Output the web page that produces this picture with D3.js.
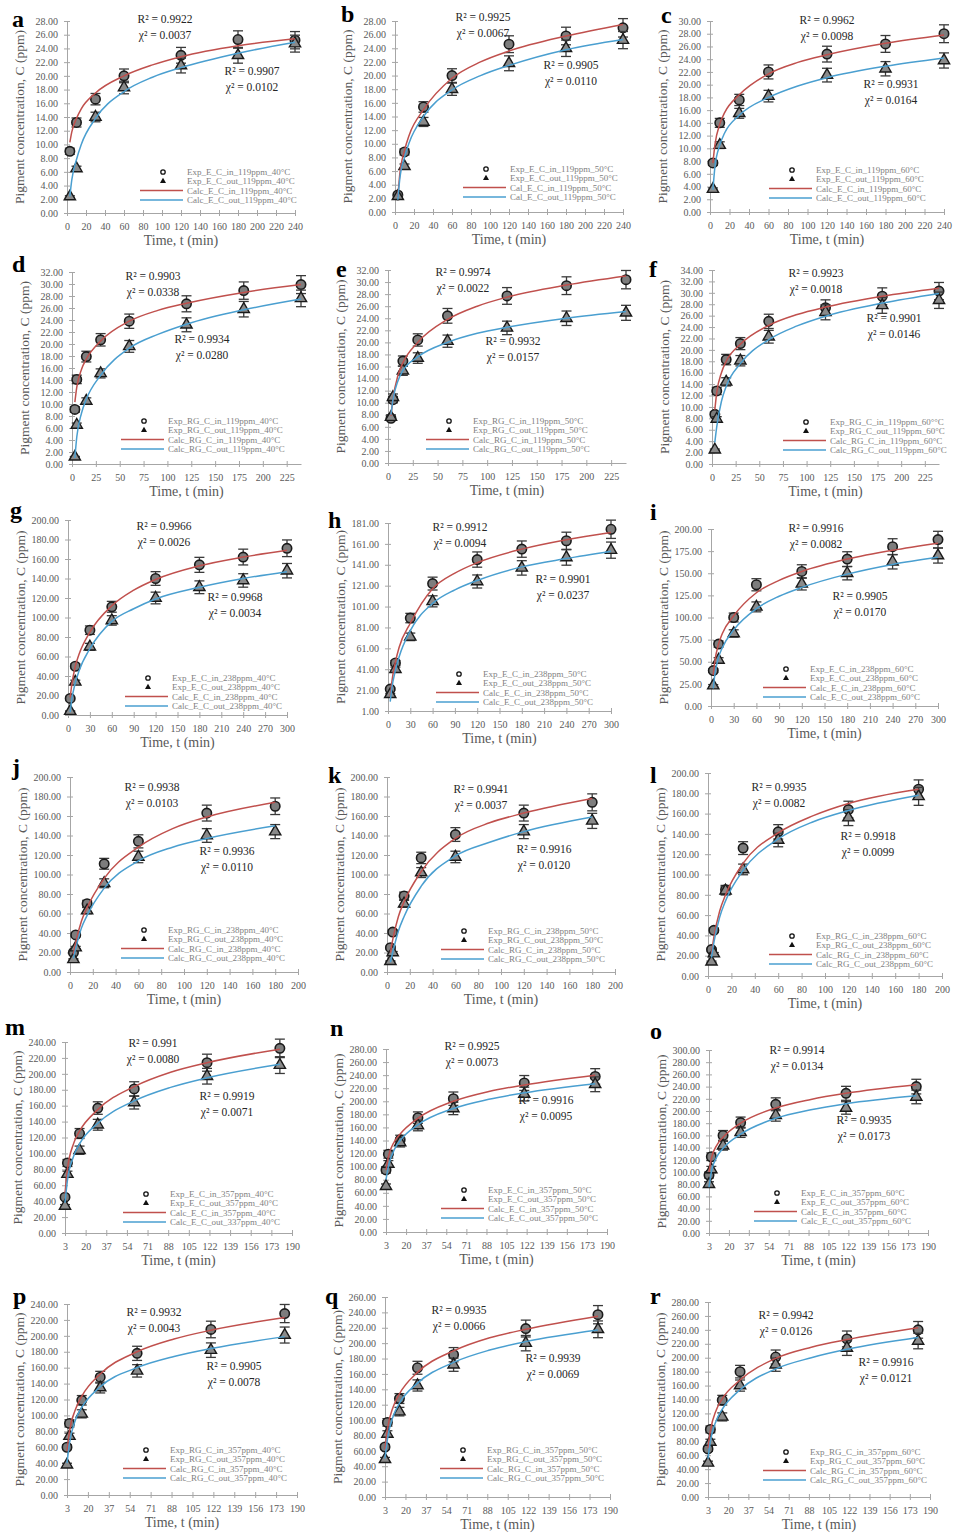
<!DOCTYPE html>
<html>
<head>
<meta charset="utf-8">
<script src="https://cdn.jsdelivr.net/npm/d3@7"></script>
<style>
  body { margin: 0; background: #fff; }
  svg text { font-family: "Liberation Serif", "Times New Roman", serif; }
</style>
</head>
<body>
<svg id="fig" width="953" height="1533"></svg>
<script>
// ---- sampling times (min) ----
const tExp240 = [3, 10, 30, 60, 120, 180, 240];          // a, b, c
const tExpRG240 = [3, 5, 15, 30, 60, 120, 180, 240];     // d, e, f
const tExp300 = [3, 10, 30, 60, 120, 180, 240, 300];     // g, h, i
const tExp180 = [3, 5, 15, 30, 60, 120, 180];            // j .. r
const tCalc240 = [3, 5, 10, 15, 30, 60, 90, 120, 180, 240];
const tCalc300 = [3, 5, 10, 15, 30, 60, 90, 120, 180, 240, 300];
const tCalc180 = [3, 5, 10, 15, 30, 60, 90, 120, 180];

// ---- tick labels ----
const xTicks240 = [0, 20, 40, 60, 80, 100, 120, 140, 160, 180, 200, 220, 240];
const xTicks225 = [0, 25, 50, 75, 100, 125, 150, 175, 200, 225];
const xTicks300 = [0, 30, 60, 90, 120, 150, 180, 210, 240, 270, 300];
const xTicks200 = [0, 20, 40, 60, 80, 100, 120, 140, 160, 180, 200];
const xTicks190 = [3, 20, 37, 54, 71, 88, 105, 122, 139, 156, 173, 190];

const y28 = [0, 2, 4, 6, 8, 10, 12, 14, 16, 18, 20, 22, 24, 26, 28];
const y30 = [0, 2, 4, 6, 8, 10, 12, 14, 16, 18, 20, 22, 24, 26, 28, 30];
const y32 = [0, 2, 4, 6, 8, 10, 12, 14, 16, 18, 20, 22, 24, 26, 28, 30, 32];
const y34 = [0, 2, 4, 6, 8, 10, 12, 14, 16, 18, 20, 22, 24, 26, 28, 30, 32, 34];
const y200 = [0, 20, 40, 60, 80, 100, 120, 140, 160, 180, 200];
const y181 = [1, 21, 41, 61, 81, 101, 121, 141, 161, 181];
const y200q = [0, 25, 50, 75, 100, 125, 150, 175, 200];
const y240 = [0, 20, 40, 60, 80, 100, 120, 140, 160, 180, 200, 220, 240];
const y260 = [0, 20, 40, 60, 80, 100, 120, 140, 160, 180, 200, 220, 240, 260];
const y280 = [0, 20, 40, 60, 80, 100, 120, 140, 160, 180, 200, 220, 240, 260, 280];
const y300 = [0, 20, 40, 60, 80, 100, 120, 140, 160, 180, 200, 220, 240, 260, 280, 300];

// ---- experimental C_in / C_out (ppm) and calculated curves ----
const inA = [9.0, 13.2, 16.6, 20.0, 23.0, 25.3, 25.2];
const outA = [2.4, 6.5, 14.0, 18.3, 21.5, 23.0, 24.7];
const calcInA = [10.3, 11.8, 13.8, 15.2, 17.5, 20.0, 21.6, 22.8, 24.4, 25.4];
const calcOutA = [2.4, 4.8, 7.8, 10.0, 13.8, 17.7, 19.8, 21.2, 23.3, 24.9];

const inB = [2.5, 8.8, 15.4, 20.0, 24.6, 25.8, 27.0];
const outB = [2.3, 6.7, 13.2, 18.0, 21.8, 24.0, 25.2];
const calcInB = [2.2, 5.5, 9.0, 11.3, 15.0, 19.6, 22.0, 23.6, 25.8, 27.5];
const calcOutB = [1.8, 4.8, 8.0, 10.2, 14.0, 17.9, 20.0, 21.5, 23.8, 25.3];

const inC = [7.7, 14.0, 17.6, 22.0, 24.8, 26.4, 28.0];
const outC = [3.6, 10.5, 15.5, 18.2, 21.5, 22.5, 23.8];
const calcInC = [7.7, 10.5, 13.8, 15.6, 18.4, 21.7, 23.5, 24.7, 26.5, 27.8];
const calcOutC = [3.5, 7.0, 10.5, 12.4, 15.2, 18.0, 19.8, 21.1, 22.9, 24.2];

const inD = [9.1, 14.1, 17.9, 20.7, 23.8, 26.7, 28.9, 29.9];
const outD = [1.2, 6.5, 10.5, 15.1, 19.6, 23.2, 25.8, 27.6];
const calcInD = [10.3, 12.8, 15.8, 17.5, 20.5, 23.8, 25.6, 26.8, 28.6, 29.9];
const calcOutD = [1.0, 4.5, 8.5, 10.8, 14.8, 19.3, 21.6, 23.3, 25.7, 27.5];

const inE = [7.4, 10.5, 16.9, 20.4, 24.4, 27.7, 29.4, 30.4];
const outE = [7.6, 10.9, 15.3, 17.4, 20.2, 22.4, 24.0, 24.9];
const calcInE = [7.8, 10.6, 14.5, 16.6, 20.0, 23.8, 26.0, 27.5, 29.5, 31.0];
const calcOutE = [8.0, 10.5, 13.6, 15.3, 17.6, 20.0, 21.5, 22.5, 24.0, 25.1];

const inF = [8.7, 12.8, 18.3, 21.1, 25.0, 27.4, 29.4, 30.3];
const outF = [2.5, 7.9, 14.4, 18.1, 22.3, 26.6, 27.8, 28.7];
const calcInF = [9.5, 12.5, 16.0, 18.0, 21.0, 24.3, 26.2, 27.5, 29.4, 30.8];
const calcOutF = [3.8, 6.5, 11.0, 13.6, 17.6, 21.8, 24.2, 25.9, 28.2, 29.9];

const inG = [17, 50, 87, 111, 140, 154, 162, 171];
const outG = [4, 34, 70, 97, 120, 131, 138, 148];
const calcInG = [18, 30, 50, 62, 85, 112, 128, 139, 153, 162, 169];
const calcOutG = [3, 15, 33, 45, 68, 96, 109, 119, 131, 140, 147];

const inH = [22, 47, 90, 123, 146, 156, 164, 175];
const outH = [17, 41, 72, 106, 125, 138, 148, 155];
const calcInH = [15, 28, 48, 62, 85, 118, 133, 143, 156, 165, 172];
const calcOutH = [10, 22, 40, 53, 78, 104, 117, 126, 139, 147, 154];

const inI = [40, 70, 100, 137, 152, 166, 180, 188];
const outI = [23, 52, 82, 112, 138, 150, 163, 170];
const calcInI = [35, 50, 70, 82, 102, 128, 142, 152, 166, 176, 184];
const calcOutI = [20, 35, 55, 66, 86, 110, 124, 134, 149, 160, 168];

const inJ = [20, 38, 70, 111, 134, 163, 170];
const outJ = [13, 25, 63, 91, 118, 140, 144];
const calcInJ = [18, 30, 52, 66, 96, 128, 147, 159, 174];
const calcOutJ = [14, 24, 45, 58, 86, 114, 128, 137, 150];

const inK = [25, 41, 78, 117, 141, 163, 174];
const outK = [11, 20, 70, 102, 118, 144, 155];
const calcInK = [20, 33, 57, 72, 103, 137, 153, 163, 178];
const calcOutK = [10, 20, 42, 57, 88, 119, 133, 144, 159];

const inL = [26, 45, 85, 126, 142, 164, 184];
const outL = [14, 22, 84, 105, 134, 156, 177];
const calcInL = [22, 38, 64, 80, 111, 141, 158, 170, 184];
const calcOutL = [18, 33, 58, 74, 104, 135, 152, 163, 178];

const inM = [45, 88, 125, 157, 181, 214, 232];
const outM = [34, 74, 104, 136, 164, 197, 211];
const calcInM = [50, 80, 112, 128, 155, 184, 202, 214, 231];
const calcOutM = [38, 66, 96, 112, 138, 166, 183, 195, 212];

const inN = [95, 119, 141, 175, 204, 228, 238];
const outN = [70, 104, 137, 163, 189, 211, 226];
const calcInN = [95, 115, 138, 150, 174, 200, 215, 225, 240];
const calcOutN = [80, 100, 126, 140, 164, 189, 203, 213, 227];

const inO = [95, 125, 160, 181, 211, 229, 240];
const outO = [80, 104, 143, 165, 193, 205, 223];
const calcInO = [100, 122, 145, 157, 180, 205, 219, 229, 243];
const calcOutO = [75, 100, 126, 139, 162, 188, 202, 212, 225];

const inP = [60, 90, 119, 148, 178, 208, 228];
const outP = [38, 74, 102, 135, 156, 182, 201];
const calcInP = [55, 80, 108, 124, 152, 180, 196, 207, 223];
const calcOutP = [40, 65, 95, 110, 136, 160, 174, 184, 199];

const inQ = [65, 97, 128, 168, 185, 219, 237];
const outQ = [49, 82, 111, 145, 172, 200, 218];
const calcInQ = [62, 88, 118, 134, 162, 190, 207, 218, 235];
const calcOutQ = [50, 75, 106, 122, 148, 175, 191, 202, 217];

const inR = [69, 97, 139, 180, 201, 227, 240];
const outR = [49, 79, 115, 160, 190, 214, 224];
const calcInR = [70, 95, 125, 141, 168, 199, 215, 226, 243];
const calcOutR = [55, 80, 110, 126, 154, 184, 200, 212, 229];

// ---- fit statistics: [R2 in, chi2 in, R2 out, chi2 out] ----
const statsA = ['0.9922', '0.0037', '0.9907', '0.0102'];
const statsB = ['0.9925', '0.0067', '0.9905', '0.0110'];
const statsC = ['0.9962', '0.0098', '0.9931', '0.0164'];
const statsD = ['0.9903', '0.0338', '0.9934', '0.0280'];
const statsE = ['0.9974', '0.0022', '0.9932', '0.0157'];
const statsF = ['0.9923', '0.0018', '0.9901', '0.0146'];
const statsG = ['0.9966', '0.0026', '0.9968', '0.0034'];
const statsH = ['0.9912', '0.0094', '0.9901', '0.0237'];
const statsI = ['0.9916', '0.0082', '0.9905', '0.0170'];
const statsJ = ['0.9938', '0.0103', '0.9936', '0.0110'];
const statsK = ['0.9941', '0.0037', '0.9916', '0.0120'];
const statsL = ['0.9935', '0.0082', '0.9918', '0.0099'];
const statsM = ['0.991', '0.0080', '0.9919', '0.0071'];
const statsN = ['0.9925', '0.0073', '0.9916', '0.0095'];
const statsO = ['0.9914', '0.0134', '0.9935', '0.0173'];
const statsP = ['0.9932', '0.0043', '0.9905', '0.0078'];
const statsQ = ['0.9935', '0.0066', '0.9939', '0.0069'];
const statsR = ['0.9942', '0.0126', '0.9916', '0.0121'];

// ---- legend naming ----
const methods = ['E', 'E', 'E', 'RG', 'RG', 'RG', 'E', 'E', 'E', 'RG', 'RG', 'RG', 'E', 'E', 'E', 'RG', 'RG', 'RG'];
const concs = [119, 119, 119, 119, 119, 119, 238, 238, 238, 238, 238, 238, 357, 357, 357, 357, 357, 357];
const temps = [40, 50, 60, 40, 50, 60, 40, 50, 60, 40, 50, 60, 40, 50, 60, 40, 50, 60];

const errPct = 0.05; // percentage error bars

// ---- layout (pixel positions, not data) ----
const boxes = { // [x at min, x at max, y at max, y at min]
  a: [67, 295, 21, 213], b: [395, 623, 21, 212], c: [710, 944, 21, 212],
  d: [72, 301, 272, 464], e: [388, 626, 270, 463], f: [712, 939, 270, 464],
  g: [68, 287, 520, 715], h: [388, 611, 523, 711], i: [711, 938, 529, 706],
  j: [70, 298, 777, 972], k: [387, 615, 777, 972], l: [708, 942, 773, 976],
  m: [65, 292, 1042, 1233], n: [386, 607, 1049, 1232], o: [709, 928, 1050, 1233],
  p: [67, 297, 1304, 1495], q: [385, 610, 1297, 1497], r: [708, 930, 1302, 1497]
};
const letterPos = {
  a: [12, 27], b: [341, 22], c: [661, 23], d: [12, 272], e: [336, 277], f: [649, 277],
  g: [10, 518], h: [328, 528], i: [650, 520], j: [12, 775], k: [328, 783], l: [650, 783],
  m: [5, 1035], n: [330, 1036], o: [650, 1039], p: [13, 1304], q: [325, 1304], r: [650, 1304]
};
const statPos = {
  a: [[165, 19], [252, 71]], b: [[483, 17], [571, 65]], c: [[827, 20], [891, 84]],
  d: [[153, 276], [202, 339]], e: [[463, 272], [513, 341]], f: [[816, 273], [894, 318]],
  g: [[164, 526], [235, 597]], h: [[460, 527], [563, 579]], i: [[816, 528], [860, 596]],
  j: [[152, 787], [227, 851]], k: [[481, 789], [544, 849]], l: [[779, 787], [868, 836]],
  m: [[153, 1043], [227, 1096]], n: [[472, 1046], [546, 1100]], o: [[797, 1050], [864, 1120]],
  p: [[154, 1312], [234, 1366]], q: [[459, 1310], [553, 1358]], r: [[786, 1315], [886, 1362]]
};
const legendPos = {
  a: [187, 172], b: [510, 169], c: [816, 170], d: [168, 421], e: [473, 421], f: [830, 422],
  g: [172, 678], h: [483, 674], i: [810, 669], j: [168, 930], k: [488, 931], l: [816, 936],
  m: [170, 1194], n: [488, 1190], o: [801, 1193], p: [170, 1450], q: [487, 1450], r: [810, 1452]
};

const RED = '#c0504d', BLUE = '#4a9fd0', GREY = '#595959', AXIS = '#a6a6a6';

// assemble panels
const panelDefs = [
  ['a', tExp240, tCalc240, inA, outA, calcInA, calcOutA, xTicks240, [0, 240], y28, statsA],
  ['b', tExp240, tCalc240, inB, outB, calcInB, calcOutB, xTicks240, [0, 240], y28, statsB],
  ['c', tExp240, tCalc240, inC, outC, calcInC, calcOutC, xTicks240, [0, 240], y30, statsC],
  ['d', tExpRG240, tCalc240, inD, outD, calcInD, calcOutD, xTicks225, [0, 240], y32, statsD],
  ['e', tExpRG240, tCalc240, inE, outE, calcInE, calcOutE, xTicks225, [0, 240], y32, statsE],
  ['f', tExpRG240, tCalc240, inF, outF, calcInF, calcOutF, xTicks225, [0, 240], y34, statsF],
  ['g', tExp300, tCalc300, inG, outG, calcInG, calcOutG, xTicks300, [0, 300], y200, statsG],
  ['h', tExp300, tCalc300, inH, outH, calcInH, calcOutH, xTicks300, [0, 300], y181, statsH],
  ['i', tExp300, tCalc300, inI, outI, calcInI, calcOutI, xTicks300, [0, 300], y200q, statsI],
  ['j', tExp180, tCalc180, inJ, outJ, calcInJ, calcOutJ, xTicks200, [0, 200], y200, statsJ],
  ['k', tExp180, tCalc180, inK, outK, calcInK, calcOutK, xTicks200, [0, 200], y200, statsK],
  ['l', tExp180, tCalc180, inL, outL, calcInL, calcOutL, xTicks200, [0, 200], y200, statsL],
  ['m', tExp180, tCalc180, inM, outM, calcInM, calcOutM, xTicks190, [3, 190], y240, statsM],
  ['n', tExp180, tCalc180, inN, outN, calcInN, calcOutN, xTicks190, [3, 190], y280, statsN],
  ['o', tExp180, tCalc180, inO, outO, calcInO, calcOutO, xTicks190, [3, 190], y300, statsO],
  ['p', tExp180, tCalc180, inP, outP, calcInP, calcOutP, xTicks190, [3, 190], y240, statsP],
  ['q', tExp180, tCalc180, inQ, outQ, calcInQ, calcOutQ, xTicks190, [3, 190], y260, statsQ],
  ['r', tExp180, tCalc180, inR, outR, calcInR, calcOutR, xTicks190, [3, 190], y280, statsR]
];

function legendLabels(idx) {
  const m = methods[idx], c = concs[idx], t = temps[idx];
  const calc = idx === 1 ? 'Cal' : 'Calc';
  const labels = [
    `Exp_${m}_C_in_${c}ppm_${t}°C`,
    `Exp_${m}_C_out_${c}ppm_${t}°C`,
    `${calc}_${m}_C_in_${c}ppm_${t}°C`,
    `${calc}_${m}_C_out_${c}ppm_${t}°C`
  ];
  if (idx === 5) labels[0] = `Exp_${m}_C_in_${c}ppm_${t}°°C`;  // as printed
  if (idx === 12) labels[3] = `Calc_${m}_C_out_337ppm_${t}°C`; // as printed
  return labels;
}

const svg = d3.select('#fig');
const tri = d3.symbol().type(d3.symbolTriangle);

panelDefs.forEach((def, idx) => {
  const [id, tExp, tCalc, cIn, cOut, calcIn, calcOut, xTicks, xDom, yTicks, stats] = def;
  const [x0, x1, yT, yB] = boxes[id];
  const x = d3.scaleLinear().domain(xDom).range([x0, x1]);
  const y = d3.scaleLinear().domain([yTicks[0], yTicks[yTicks.length - 1]]).range([yB, yT]);
  const g = svg.append('g').attr('class', 'panel-' + id);

  // axes
  const xa = g.append('g').attr('transform', `translate(0,${yB})`)
      .call(d3.axisBottom(x).tickValues(xTicks).tickSizeInner(3).tickSizeOuter(0).tickPadding(7).tickFormat(d3.format('d')));
  xa.selectAll('line').attr('y1', -3);
  const ya = g.append('g').attr('transform', `translate(${x0},0)`)
      .call(d3.axisLeft(y).tickValues(yTicks).tickSizeInner(3).tickSizeOuter(0).tickPadding(6).tickFormat(d3.format('.2f')));
  ya.selectAll('line').attr('x1', 3);
  [xa, ya].forEach(a => {
    a.select('.domain').attr('stroke', AXIS);
    a.selectAll('line').attr('stroke', AXIS);
    a.selectAll('text').attr('fill', GREY).style('font-size', '10px');
  });

  // axis titles
  g.append('text')
      .attr('transform', `translate(${x0 - 48},${(yT + yB) / 2}) rotate(-90)`)
      .attr('text-anchor', 'middle').attr('dy', '0.35em')
      .attr('fill', GREY).style('font-size', '13.5px')
      .text('Pigment concentration, C (ppm)');
  g.append('text')
      .attr('x', (x0 + x1) / 2).attr('y', yB + 32)
      .attr('text-anchor', 'middle')
      .attr('fill', GREY).style('font-size', '14px')
      .text('Time, t (min)');

  // experimental points with error bars
  const series = [
    { vals: cIn, shape: 'circle' },
    { vals: cOut, shape: 'triangle' }
  ];
  series.forEach(s => {
    const pts = tExp.map((t, i) => ({ t, v: s.vals[i] }));
    const eb = g.append('g').attr('stroke', '#3a3a3a').attr('stroke-width', 1.3);
    pts.forEach(d => {
      const lo = y(d.v * (1 - errPct)), hi = y(d.v * (1 + errPct)), cx = x(d.t);
      eb.append('line').attr('x1', cx).attr('x2', cx).attr('y1', lo).attr('y2', hi);
      eb.append('line').attr('x1', cx - 5).attr('x2', cx + 5).attr('y1', lo).attr('y2', lo);
      eb.append('line').attr('x1', cx - 5).attr('x2', cx + 5).attr('y1', hi).attr('y2', hi);
    });
    if (s.shape === 'circle') {
      g.append('g').selectAll('circle').data(pts).join('circle')
          .attr('cx', d => x(d.t)).attr('cy', d => y(d.v)).attr('r', 4.7)
          .attr('fill', '#7d7d7d').attr('stroke', '#1a1a1a').attr('stroke-width', 1.6);
    } else {
      g.append('g').selectAll('path').data(pts).join('path')
          .attr('d', tri.size(55))
          .attr('transform', d => `translate(${x(d.t)},${y(d.v)})`)
          .attr('fill', '#8a8a8a').attr('stroke', '#1a1a1a').attr('stroke-width', 1.4);
    }
  });

  // calculated curves (drawn above markers, as in the source)
  const line = d3.line().x(d => x(d.t)).y(d => y(d.v)).curve(d3.curveMonotoneX);
  [[calcIn, RED], [calcOut, BLUE]].forEach(([vals, col]) => {
    g.append('path')
        .datum(tCalc.map((t, i) => ({ t, v: vals[i] })))
        .attr('d', line).attr('fill', 'none')
        .attr('stroke', col).attr('stroke-width', 1.5);
  });

  // fit statistics
  const sp = statPos[id];
  [[sp[0], stats[0], stats[1]], [sp[1], stats[2], stats[3]]].forEach(([pos, r2, chi]) => {
    g.append('text').attr('x', pos[0]).attr('y', pos[1]).attr('dy', '0.35em')
        .attr('text-anchor', 'middle').attr('fill', '#262626').style('font-size', '11.5px')
        .text(`R² = ${r2}`);
    g.append('text').attr('x', pos[0]).attr('y', pos[1] + 16).attr('dy', '0.35em')
        .attr('text-anchor', 'middle').attr('fill', '#262626').style('font-size', '11.5px')
        .text(`χ² = ${chi}`);
  });

  // legend
  const [lx, ly] = legendPos[id];
  const labels = legendLabels(idx);
  const lg = g.append('g');
  labels.forEach((lab, i) => {
    const ry = ly + i * 9.3;
    lg.append('text').attr('x', lx).attr('y', ry).attr('dy', '0.35em')
        .attr('fill', '#7f7f7f').style('font-size', '9px').text(lab);
    if (i === 0) {
      lg.append('circle').attr('cx', lx - 24).attr('cy', ry).attr('r', 2.2)
          .attr('fill', '#fff').attr('stroke', '#111').attr('stroke-width', 1.3);
    } else if (i === 1) {
      lg.append('path').attr('d', tri.size(16)).attr('transform', `translate(${lx - 24},${ry})`)
          .attr('fill', '#111');
    } else {
      lg.append('line').attr('x1', lx - 47).attr('x2', lx - 4).attr('y1', ry).attr('y2', ry)
          .attr('stroke', i === 2 ? RED : BLUE).attr('stroke-width', 1.5);
    }
  });

  // panel letter
  g.append('text').attr('x', letterPos[id][0]).attr('y', letterPos[id][1])
      .attr('fill', '#000').style('font-size', '24px').style('font-weight', 'bold')
      .text(id);
});
</script>
</body>
</html>
